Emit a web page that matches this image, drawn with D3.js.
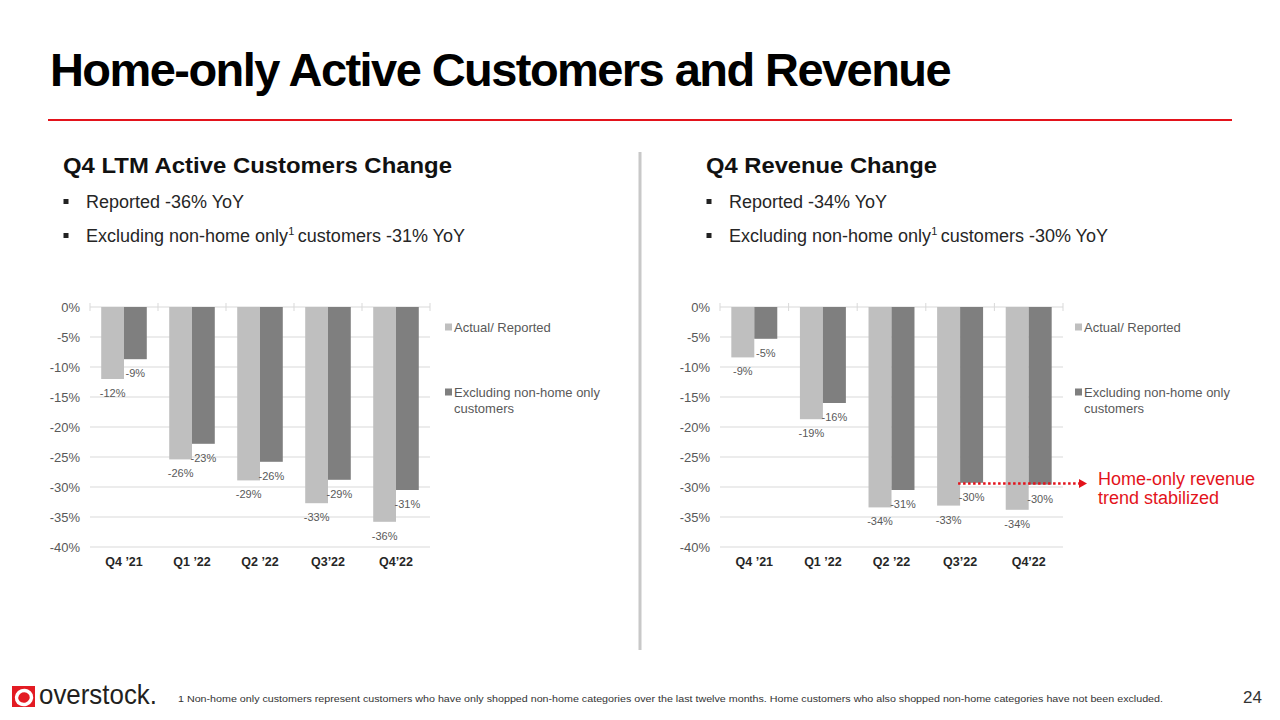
<!DOCTYPE html>
<html>
<head>
<meta charset="utf-8">
<script src="https://cdn.jsdelivr.net/npm/d3@7"></script>
<style>
  html, body { margin: 0; padding: 0; background: #fff; }
  svg { display: block; font-family: "Liberation Sans", Arial, Helvetica, sans-serif; }
</style>
</head>
<body>
<svg id="slide" width="1280" height="720"></svg>
<script>
// ---- data ----
const categories = ["Q4 \u201921", "Q1 \u201922", "Q2 \u201922", "Q3\u201922", "Q4\u201922"];
const seriesNames = ["Actual/ Reported", "Excluding non-home only customers"];
const yTicks = [0, -5, -10, -15, -20, -25, -30, -35, -40];

const custReported = [-12.0, -25.4, -28.9, -32.7, -35.8];
const custExcluding = [-8.7, -22.8, -25.8, -28.8, -30.5];
const custReportedLabels = ["-12%", "-26%", "-29%", "-33%", "-36%"];
const custExcludingLabels = ["-9%", "-23%", "-26%", "-29%", "-31%"];

const revReported = [-8.4, -18.7, -33.4, -33.1, -33.8];
const revExcluding = [-5.3, -16.0, -30.5, -29.3, -29.6];
const revReportedLabels = ["-9%", "-19%", "-34%", "-33%", "-34%"];
const revExcludingLabels = ["-5%", "-16%", "-31%", "-30%", "-30%"];

const annotationValue = -29.6;

// ---- drawing ----
const svg = d3.select("#slide");
const RED = "#e3131b";
const LIGHT = "#bfbfbf";
const DARK = "#7f7f7f";

function fitText(sel, len, mode) {
  sel.attr("textLength", len).attr("lengthAdjust", mode || "spacingAndGlyphs");
}

// Title
svg.append("text").attr("x", 50).attr("y", 86)
  .attr("font-size", 47).attr("font-weight", "bold").attr("fill", "#000")
  .attr("letter-spacing", -1.6)
  .text("Home-only Active Customers and Revenue")
  .call(fitText, 900, "spacing");
svg.append("line").attr("x1", 48).attr("x2", 1232).attr("y1", 120).attr("y2", 120)
  .attr("stroke", RED).attr("stroke-width", 2.2);

// divider
svg.append("line").attr("x1", 640).attr("x2", 640).attr("y1", 152).attr("y2", 650)
  .attr("stroke", "#c8c8c8").attr("stroke-width", 3);

function panelText(x0, title, titleLen, bullets) {
  svg.append("text").attr("x", x0).attr("y", 172.5)
    .attr("font-size", 22).attr("font-weight", "bold").attr("fill", "#111")
    .text(title).call(fitText, titleLen);
  bullets.forEach((b, i) => {
    const by = 208 + i * 34;
    svg.append("rect").attr("x", x0 + 0.5).attr("y", by - 9).attr("width", 5).attr("height", 5).attr("fill", "#222");
    const t = svg.append("text").attr("x", x0 + 23).attr("y", by)
      .attr("font-size", 18).attr("fill", "#262626");
    b.forEach(part => {
      if (part.sup) {
        t.append("tspan").attr("font-size", 11).attr("dy", -7).text(part.t);
        t.append("tspan").attr("dy", 7).text("\u2009");
      } else {
        t.append("tspan").text(part.t);
      }
    });
  });
}

panelText(63, "Q4 LTM Active Customers Change", 389, [
  [{t: "Reported -36% YoY"}],
  [{t: "Excluding non-home only"}, {t: "1", sup: true}, {t: "customers -31% YoY"}]
]);
panelText(706, "Q4 Revenue Change", 231, [
  [{t: "Reported -34% YoY"}],
  [{t: "Excluding non-home only"}, {t: "1", sup: true}, {t: "customers -30% YoY"}]
]);

function drawChart(cfg) {
  const g = svg.append("g");
  const y = d3.scaleLinear().domain([-40, 0]).range([547, 307]);
  const x0 = d3.scaleBand().domain(categories).range([cfg.left, cfg.right])
    .paddingInner(0.33).paddingOuter(0.165);
  const x1 = d3.scaleBand().domain([0, 1]).range([0, x0.bandwidth()]);

  // gridlines
  g.selectAll("line.grid").data(yTicks).join("line")
    .attr("x1", cfg.left).attr("x2", cfg.right)
    .attr("y1", d => y(d)).attr("y2", d => y(d))
    .attr("stroke", "#d9d9d9").attr("stroke-width", 1);

  // category tick marks on the zero axis
  const step = x0.step();
  const bounds = d3.range(categories.length + 1).map(i => cfg.left + i * step);
  g.selectAll("line.tk").data(bounds).join("line")
    .attr("x1", d => d).attr("x2", d => d)
    .attr("y1", y(0) - 4).attr("y2", y(0) + 4)
    .attr("stroke", "#d9d9d9").attr("stroke-width", 1);

  // y labels
  g.selectAll("text.yl").data(yTicks).join("text")
    .attr("x", cfg.left - 10).attr("y", d => y(d) + 4.5)
    .attr("text-anchor", "end").attr("font-size", 13).attr("fill", "#595959")
    .text(d => d + "%");

  // x labels
  g.selectAll("text.xl").data(categories).join("text")
    .attr("x", d => x0(d) + x0.bandwidth() / 2).attr("y", 566)
    .attr("text-anchor", "middle").attr("font-size", 12.5).attr("font-weight", "bold").attr("fill", "#262626")
    .text(d => d);

  const series = [
    {vals: cfg.reported, labels: cfg.reportedLabels, color: LIGHT},
    {vals: cfg.excluding, labels: cfg.excludingLabels, color: DARK}
  ];
  series.forEach((s, si) => {
    g.selectAll(null).data(categories).join("rect")
      .attr("x", (d, i) => x0(d) + x1(si))
      .attr("y", y(0))
      .attr("width", x1.bandwidth())
      .attr("height", (d, i) => y(s.vals[i]) - y(0))
      .attr("fill", s.color);
    g.selectAll(null).data(categories).join("text")
      .attr("x", (d, i) => x0(d) + x1(si) + x1.bandwidth() / 2)
      .attr("y", (d, i) => y(s.vals[i]) + 18)
      .attr("text-anchor", "middle").attr("font-size", 11).attr("fill", "#595959")
      .text((d, i) => s.labels[i]);
  });

  // legend
  const lx = cfg.legendX;
  const items = [
    {lines: ["Actual/ Reported"], color: LIGHT, y: 327},
    {lines: ["Excluding non-home only", "customers"], color: DARK, y: 392}
  ];
  items.forEach((it, k) => {
    g.append("rect").attr("x", lx).attr("y", it.y - 3.5).attr("width", 7).attr("height", 7).attr("fill", it.color);
    it.lines.forEach((ln, j) => {
      g.append("text").attr("x", lx + 9).attr("y", it.y + 5 + j * 16)
        .attr("font-size", 13).attr("fill", "#595959").text(ln);
    });
  });
  return {x0, x1, y};
}

drawChart({left: 90, right: 430, legendX: 445,
  reported: custReported, excluding: custExcluding,
  reportedLabels: custReportedLabels, excludingLabels: custExcludingLabels});
const rc = drawChart({left: 720, right: 1063, legendX: 1075,
  reported: revReported, excluding: revExcluding,
  reportedLabels: revReportedLabels, excludingLabels: revExcludingLabels});

// annotation: dotted red arrow
const ay = rc.y(annotationValue) - 1;
const ax0 = rc.x0(categories[3]) + rc.x1(1) - 2;
svg.append("line").attr("x1", ax0).attr("x2", 1080).attr("y1", ay).attr("y2", ay)
  .attr("stroke", RED).attr("stroke-width", 2.5).attr("stroke-dasharray", "2.5,2.5");
svg.append("path").attr("d", `M1079,${ay - 4.5} L1087,${ay} L1079,${ay + 4.5} Z`).attr("fill", RED);
svg.append("text").attr("x", 1098).attr("y", 485).attr("font-size", 18).attr("fill", RED).text("Home-only revenue");
svg.append("text").attr("x", 1098).attr("y", 504).attr("font-size", 18).attr("fill", RED).text("trend stabilized");

// footer logo
svg.append("rect").attr("x", 12).attr("y", 686).attr("width", 23).attr("height", 21).attr("fill", "#e31b23");
svg.append("ellipse").attr("cx", 24).attr("cy", 697.5).attr("rx", 7.5).attr("ry", 7)
  .attr("fill", "none").attr("stroke", "#fff").attr("stroke-width", 3.5)
  .attr("transform", "rotate(-20,24,697.5)");
svg.append("text").attr("x", 39).attr("y", 704).attr("font-size", 28).attr("font-weight", 300)
  .attr("fill", "#231f20").text("overstock.").call(fitText, 118);

// footnote
svg.append("text").attr("x", 178).attr("y", 702).attr("font-size", 9.5).attr("fill", "#333")
  .text("1 Non-home only customers represent customers who have only shopped non-home categories over the last twelve months. Home customers who also shopped non-home categories have not been excluded.")
  .call(fitText, 985);

// page number
svg.append("text").attr("x", 1262).attr("y", 703).attr("text-anchor", "end")
  .attr("font-size", 17).attr("fill", "#333").text("24");
</script>
</body>
</html>
